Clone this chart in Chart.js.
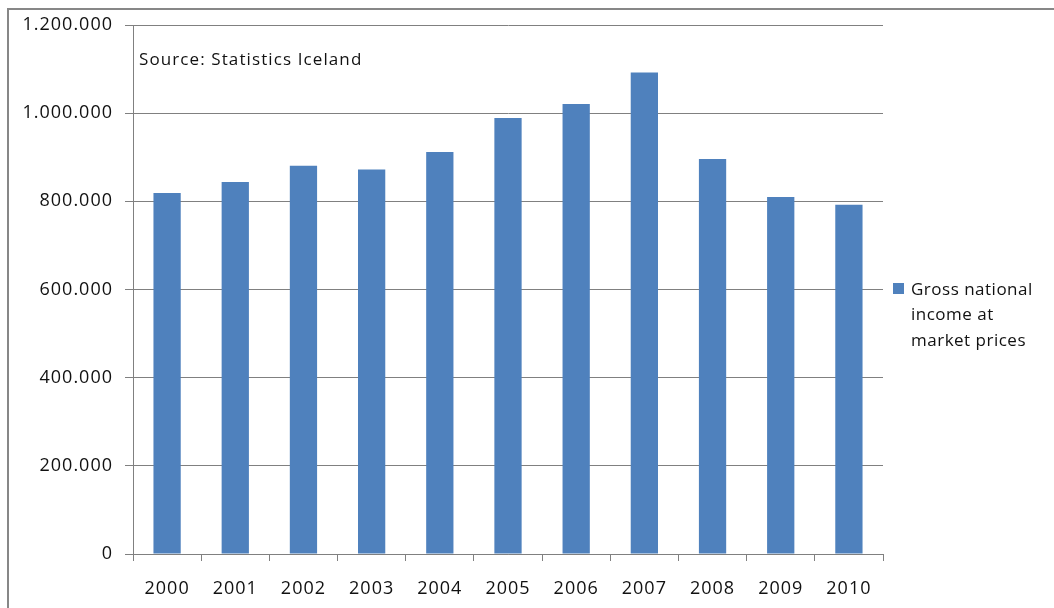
<!DOCTYPE html>
<html>
<head>
<meta charset="utf-8">
<script src="https://cdn.jsdelivr.net/npm/chart.js@4/dist/chart.umd.min.js"></script>
<style>
  html, body { margin: 0; padding: 0; background: #fff; overflow: hidden; }
  #wrap { position: relative; width: 1054px; height: 608px; }
  #frame {
    position: absolute; left: 7px; top: 8px; width: 1060px; height: 620px;
    border-top: 2px solid #878787; border-left: 2px solid #878787;
    box-sizing: border-box; pointer-events: none;
  }
  canvas { position: absolute; left: 0; top: 0; }
</style>
</head>
<body>
<div id="wrap">
  <canvas id="gni" width="1054" height="608"></canvas>
  <div id="frame"></div>
</div>
<script>
// Gross national income at market prices, Iceland (ISK million)
const years = ['2000', '2001', '2002', '2003', '2004', '2005', '2006', '2007', '2008', '2009', '2010'];
const gniValues = [819000, 844000, 881000, 872000, 912000, 989000, 1021000, 1092000, 896000, 810000, 792000];
const seriesName = 'Gross national income at market prices';
const legendLines = ['Gross national', 'income at', 'market prices'];
const sourceNote = 'Source: Statistics Iceland';

const barColor = '#4F81BD';
const gridColor = '#808080';
const textColor = '#111';
const fontFamily = '"Open Sans", "DejaVu Sans", sans-serif';

// Thousands with dots: 1200000 -> 1.200.000
function formatThousands(v) {
    return String(v).replace(/\B(?=(\d{3})+(?!\d))/g, '.');
}

// Source note in the top-left corner of the plot area + legend on the right
const annotations = {
    id: 'annotations',
    afterDraw(chart) {
        const ctx = chart.ctx;
        const area = chart.chartArea;
        ctx.save();
        ctx.letterSpacing = '1.1px';
        ctx.fillStyle = textColor;
        ctx.font = '17px ' + fontFamily;
        ctx.textBaseline = 'middle';
        ctx.textAlign = 'left';
        ctx.fillText(sourceNote, area.left + 6, 60);

        // legend
        ctx.letterSpacing = '0.5px';
        ctx.fillStyle = barColor;
        ctx.fillRect(893, 283, 11, 11);
        ctx.fillStyle = textColor;
        ctx.font = '17px ' + fontFamily;
        legendLines.forEach((line, i) => {
            ctx.fillText(line, 911, 290 + i * 25.5);
        });
        ctx.restore();
    }
};

// Slightly wider text spacing for the axis labels
const spacing = {
    id: 'spacing',
    beforeDraw(chart) {
        chart.ctx.letterSpacing = '1px';
    }
};

const ctx = document.getElementById('gni').getContext('2d');
const chart = new Chart(ctx, {
    type: 'bar',
    data: {
        labels: years,
        datasets: [{
            label: seriesName,
            data: gniValues,
            backgroundColor: barColor,
            borderWidth: 0,
            barPercentage: 0.4,
            categoryPercentage: 1.0
        }]
    },
    options: {
        responsive: false,
        animation: false,
        devicePixelRatio: 1,
        layout: {
            padding: { left: 10, top: 25, right: 171, bottom: 0 }
        },
        plugins: {
            legend: { display: false },
            tooltip: { enabled: false }
        },
        scales: {
            x: {
                offset: true,
                grid: {
                    offset: true,
                    drawOnChartArea: false,
                    drawTicks: true,
                    tickLength: 7,
                    color: gridColor,
                    lineWidth: 1
                },
                border: { color: gridColor, width: 1 },
                ticks: {
                    color: textColor,
                    font: { family: fontFamily, size: 18 },
                    padding: 17,
                    maxRotation: 0
                },
                afterFit(scale) { scale.height = 54; }
            },
            y: {
                min: 0,
                max: 1200000,
                grid: {
                    color: gridColor,
                    lineWidth: 1,
                    drawTicks: true,
                    tickLength: 8
                },
                border: { color: gridColor, width: 1 },
                ticks: {
                    stepSize: 200000,
                    color: textColor,
                    font: { family: fontFamily, size: 18 },
                    padding: 12,
                    callback: (v) => formatThousands(v)
                },
                afterFit(scale) { scale.width = 123; }
            }
        }
    },
    plugins: [spacing, annotations]
});
</script>
</body>
</html>
